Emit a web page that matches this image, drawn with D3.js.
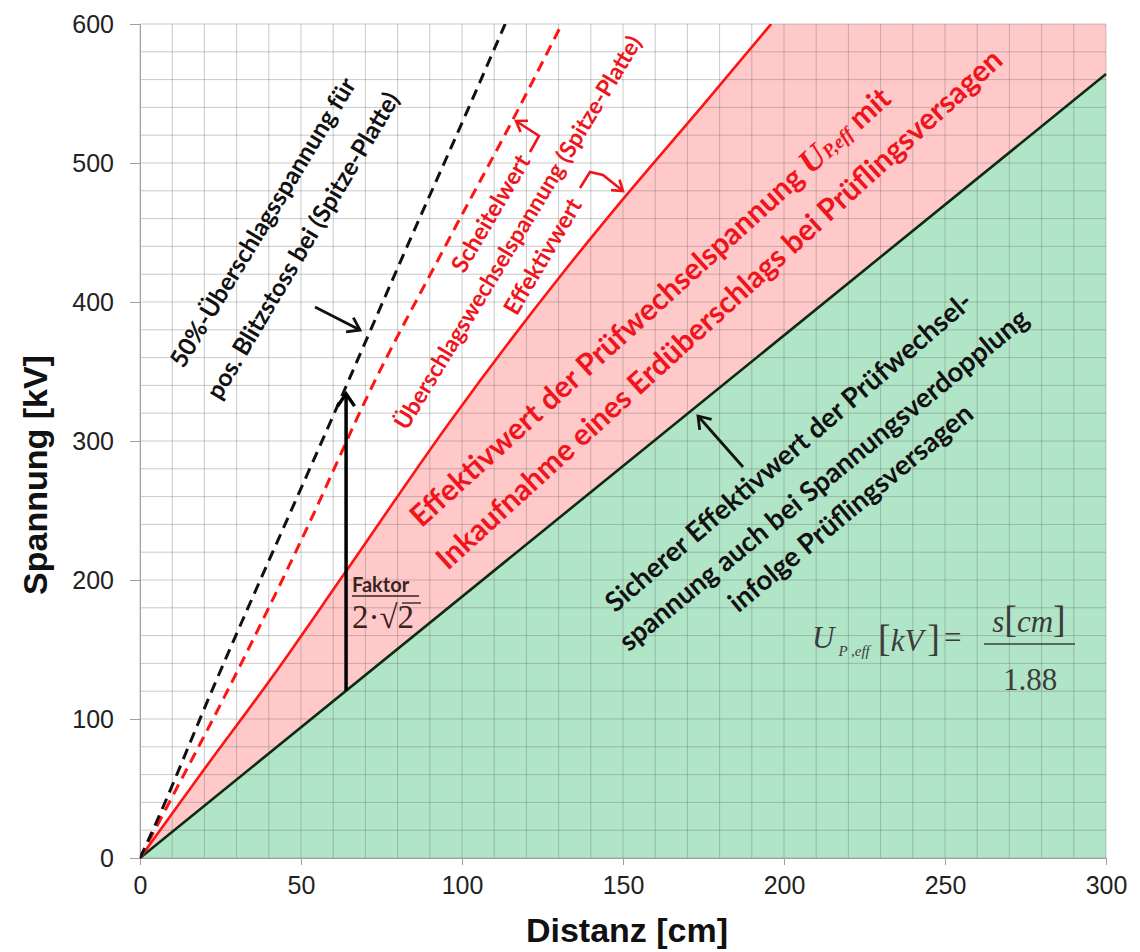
<!DOCTYPE html>
<html>
<head>
<meta charset="utf-8">
<script src="https://cdn.jsdelivr.net/npm/d3@7"></script>
<style>
  body { margin: 0; background: #fff; }
  .tick text { font-family: Arial, "Liberation Sans", sans-serif; }
</style>
</head>
<body>
<div id="chart"></div>
<script>
/* global d3 */

// Canvas
const width = 1140,
  height = 952

// Tick labels
const xTicks = [0, 50, 100, 150, 200, 250, 300]
const yTicks = [0, 100, 200, 300, 400, 500, 600]

// Curves: [Distanz cm, Spannung kV]
const blitzU50 = [[0, 0], [3, 15], [23, 124], [63, 334], [82, 435], [102.5, 542], [113.4, 600]]
const scheitelwert = [[0, 0], [10, 44], [26, 115], [53, 243], [71, 334], [95, 441], [118, 541], [131, 600]]
const effektivwert = [[0, 0], [20, 64], [41, 130], [63, 203], [96, 313], [131, 420], [150, 474], [175, 542], [196, 600]]
const sicher = [[0, 0], [300, 564]]

// Scales
const x = d3.scaleLinear().domain([0, 300]).range([140, 1106])
const y = d3.scaleLinear().domain([0, 600]).range([858, 24])

let svg = d3.select('#chart')
  .append('svg')
  .attr('width', width)
  .attr('height', height)

svg.append('clipPath').attr('id', 'plot')
  .append('rect')
  .attr('x', x(0)).attr('y', y(600))
  .attr('width', x(300) - x(0)).attr('height', y(0) - y(600))

const line = d3.line().x(d => x(d[0])).y(d => y(d[1]))
const smooth = d3.line().x(d => x(d[0])).y(d => y(d[1])).curve(d3.curveMonotoneX)

// Filled zones
let pinkPath = smooth(effektivwert) +
  `L${x(300)},${y(600)}L${x(300)},${y(sicher[1][1])}L${x(0)},${y(0)}Z`
let green = sicher.concat([[300, 0], [0, 0]])

svg.append('path').attr('d', pinkPath)
  .attr('fill', '#ffc9c9').attr('clip-path', 'url(#plot)')
svg.append('path').attr('d', line(green) + 'Z')
  .attr('fill', '#b1e5c8').attr('clip-path', 'url(#plot)')

// Grid
let grid = svg.append('g').attr('stroke', 'rgba(100,100,100,0.34)').attr('stroke-width', 1)
grid.selectAll('.gx').data(d3.range(0, 301, 10)).enter().append('line')
  .attr('x1', d => x(d)).attr('x2', d => x(d))
  .attr('y1', y(0)).attr('y2', y(600))
grid.selectAll('.gy').data(d3.range(0, 601, 20)).enter().append('line')
  .attr('x1', x(0)).attr('x2', x(300))
  .attr('y1', d => y(d)).attr('y2', d => y(d))

// Axes
let xAxis = svg.append('g')
  .attr('transform', `translate(0,${y(0)})`)
  .call(d3.axisBottom(x).tickValues(xTicks).tickSize(7).tickPadding(11))
let yAxis = svg.append('g')
  .attr('transform', `translate(${x(0)},0)`)
  .call(d3.axisLeft(y).tickValues(yTicks).tickSize(10).tickPadding(16))
;[xAxis, yAxis].forEach(g => {
  g.select('.domain').attr('stroke', '#a0a0a0')
  g.selectAll('.tick line').attr('stroke', '#a0a0a0')
  g.selectAll('.tick text').attr('font-size', 25).attr('fill', '#222')
})

// Curves
svg.append('path').attr('d', line(sicher))
  .attr('fill', 'none').attr('stroke', '#0f2a14').attr('stroke-width', 2.6)
svg.append('path').attr('d', smooth(effektivwert)).attr('clip-path', 'url(#plot)')
  .attr('fill', 'none').attr('stroke', '#ff1414').attr('stroke-width', 2.6)
svg.append('path').attr('d', smooth(scheitelwert)).attr('clip-path', 'url(#plot)')
  .attr('fill', 'none').attr('stroke', '#ff1414').attr('stroke-width', 3)
  .attr('stroke-dasharray', '11 7')
svg.append('path').attr('d', smooth(blitzU50)).attr('clip-path', 'url(#plot)')
  .attr('fill', 'none').attr('stroke', '#111').attr('stroke-width', 3)
  .attr('stroke-dasharray', '11 7')

// Axis titles
svg.append('text').attr('x', 627).attr('y', 942)
  .attr('text-anchor', 'middle').attr('font-family', 'Arial, "Liberation Sans"')
  .attr('font-weight', 'bold').attr('font-size', 34).attr('fill', '#111')
  .text('Distanz [cm]')
svg.append('text').attr('transform', 'translate(47,475) rotate(-90)')
  .attr('text-anchor', 'middle').attr('font-family', 'Arial, "Liberation Sans"')
  .attr('font-weight', 'bold').attr('font-size', 34).attr('fill', '#111')
  .text('Spannung [kV]')

// Annotations
const label = (cx, cy, angle, size, color, str) => svg.append('text')
  .attr('transform', `translate(${cx},${cy}) rotate(${angle})`)
  .attr('text-anchor', 'middle').attr('dominant-baseline', 'central')
  .attr('font-family', 'Lato, "Open Sans", sans-serif').attr('font-weight', 'bold')
  .attr('font-size', size).attr('fill', color)
  .text(str)

const arrow = (pts, color, w, head) => {
  let n = pts.length
  let a = Math.atan2(pts[n - 1][1] - pts[n - 2][1], pts[n - 1][0] - pts[n - 2][0])
  let [tx, ty] = pts[n - 1]
  svg.append('path').attr('d', d3.line()(pts))
    .attr('fill', 'none').attr('stroke', color).attr('stroke-width', w)
  let hd = [[tx - head * Math.cos(a - 0.6), ty - head * Math.sin(a - 0.6)], [tx, ty],
    [tx - head * Math.cos(a + 0.6), ty - head * Math.sin(a + 0.6)]]
  svg.append('path').attr('d', d3.line()(hd))
    .attr('fill', 'none').attr('stroke', color).attr('stroke-width', w)
    .attr('stroke-linejoin', 'miter')
}

const red = '#f0141c'

label(262, 222, -58.7, 24.5, '#111', '50%-Überschlagsspannung für')
label(302, 245, -59.2, 24.5, '#111', 'pos. Blitzstoss bei (Spitze-Platte)')
arrow([[315, 307], [360, 330]], '#111', 2.8, 14)

label(490, 213, -59.5, 23.5, red, 'Scheitelwert')
label(517, 232, -58.8, 23, red, 'Überschlagswechselspannung (Spitze-Platte)')
label(542, 256, -59.5, 23.5, red, 'Effektivwert')
arrow([[530, 152], [539, 136], [516, 121]], red, 2.6, 12)
arrow([[580, 188], [590, 172], [603, 175], [623, 191]], red, 2.6, 12)

let t1 = svg.append('text')
  .attr('transform', 'translate(649,306) rotate(-42.2)')
  .attr('text-anchor', 'middle').attr('dominant-baseline', 'central')
  .attr('font-family', 'Lato, "Open Sans", sans-serif').attr('font-weight', 'bold')
  .attr('font-size', 30).attr('fill', red)
t1.append('tspan').text('Effektivwert der Prüfwechselspannung ')
t1.append('tspan').attr('font-family', '"Liberation Serif", serif').attr('font-style', 'italic')
  .attr('font-weight', 'bold').attr('font-size', 34).text('U')
t1.append('tspan').attr('font-family', '"Liberation Serif", serif').attr('font-style', 'italic')
  .attr('font-weight', 'bold').attr('font-size', 19).attr('dy', 5).text('P,eff')
t1.append('tspan').attr('dy', -5).text(' mit')
label(718, 308, -42.4, 30, red, 'Inkaufnahme eines Erdüberschlags bei Prüflingsversagen')

label(788, 451, -40.7, 27.5, '#111', 'Sicherer Effektivwert der Prüfwechsel-')
label(823, 479, -39.4, 27.5, '#111', 'spannung auch bei Spannungsverdopplung')
label(850, 507, -39.7, 27.5, '#111', 'infolge Prüflingsversagen')
arrow([[743, 467], [698, 416]], '#111', 2.8, 14)

// Faktor arrow between the safe line and the lightning impulse line
let fs = 64
arrow([[x(fs), y(sicher[1][1] / sicher[1][0] * fs)], [x(fs), y(334)]], '#000', 3.5, 15)
svg.append('text').attr('x', 352).attr('y', 592)
  .attr('font-family', 'Lato, "Open Sans", sans-serif').attr('font-weight', 'bold')
  .attr('font-size', 20).attr('fill', '#3a2222').text('Faktor')
svg.append('line').attr('x1', 352).attr('x2', 419).attr('y1', 596).attr('y2', 596)
  .attr('stroke', '#3a2222').attr('stroke-width', 1.6)
svg.append('text').attr('x', 352).attr('y', 628)
  .attr('font-family', '"Liberation Serif", serif')
  .attr('font-size', 33).attr('fill', '#3a2222').text('2·√2')
svg.append('line').attr('x1', 402).attr('x2', 421).attr('y1', 603).attr('y2', 603)
  .attr('stroke', '#3a2222').attr('stroke-width', 1.4)

// Formula
const serif = '"Liberation Serif", "Times New Roman", serif'
let f = svg.append('g').attr('fill', '#3c3c3c').attr('font-family', serif)
let u = f.append('text').attr('x', 812).attr('y', 648).attr('font-size', 31)
u.append('tspan').attr('font-style', 'italic').text('U')
u.append('tspan').attr('font-style', 'italic').attr('font-size', 15).attr('dx', 4).attr('dy', 8).text('P ,eff')
let kv = f.append('text').attr('x', 878).attr('y', 651).attr('font-size', 38)
kv.append('tspan').text('[')
kv.append('tspan').attr('font-style', 'italic').attr('font-size', 31).text('kV')
kv.append('tspan').attr('dx', 4).text(']')
f.append('text').attr('x', 944).attr('y', 648).attr('font-size', 31).text('=')
let num = f.append('text').attr('x', 1029).attr('y', 632).attr('text-anchor', 'middle').attr('font-size', 31)
num.append('tspan').attr('font-style', 'italic').text('s')
num.append('tspan').attr('font-size', 38).text('[')
num.append('tspan').attr('font-style', 'italic').text('cm')
num.append('tspan').attr('font-size', 38).text(']')
f.append('line').attr('x1', 984).attr('x2', 1075).attr('y1', 644).attr('y2', 644)
  .attr('stroke', '#3c3c3c').attr('stroke-width', 1.3)
f.append('text').attr('x', 1030).attr('y', 690).attr('text-anchor', 'middle')
  .attr('font-size', 31).text('1.88')
</script>
</body>
</html>
